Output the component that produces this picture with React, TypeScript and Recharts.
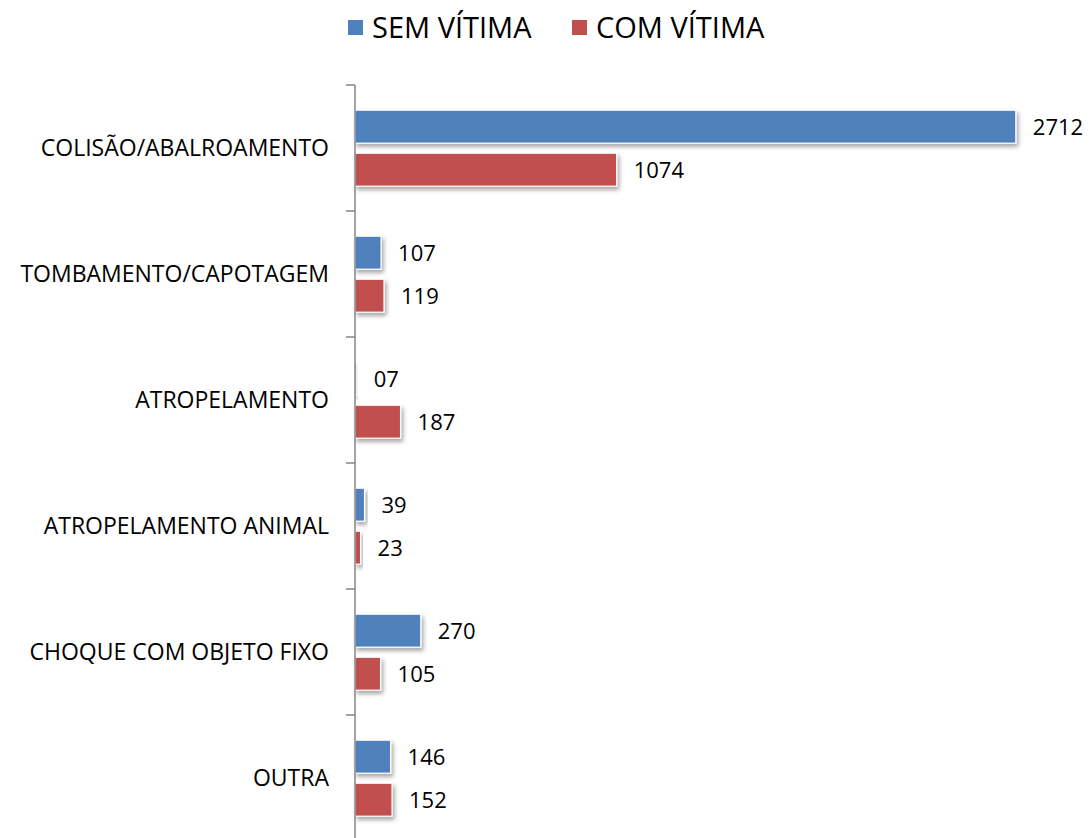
import React from 'react';
import { BarChart, Bar, XAxis, YAxis, Legend, LabelList } from 'recharts';

const categories = [
  'COLISÃO/ABALROAMENTO',
  'TOMBAMENTO/CAPOTAGEM',
  'ATROPELAMENTO',
  'ATROPELAMENTO ANIMAL',
  'CHOQUE COM OBJETO FIXO',
  'OUTRA',
];
const semVitima = [2712, 107, 7, 39, 270, 146];
const comVitima = [1074, 119, 187, 23, 105, 152];
const semLabels = ['2712', '107', '07', '39', '270', '146'];
const comLabels = ['1074', '119', '187', '23', '105', '152'];
const seriesNames = ['SEM VÍTIMA', 'COM VÍTIMA'];
const colors = ['#4F81BD', '#C0504D'];

const data = categories.map((name, i) => ({
  name,
  sem: semVitima[i],
  com: comVitima[i],
  semLabel: semLabels[i],
  comLabel: comLabels[i],
}));

const FONT = '"Open Sans", sans-serif';

const BarShape = (props: any) => {
  const { x, y, width, height, fill } = props;
  if (width == null || height == null) return null;
  return (
    <rect
      x={x}
      y={y}
      width={Math.max(width, 0)}
      height={height}
      fill={fill}
      stroke="#ffffff"
      strokeWidth={1.2}
      filter="url(#barShadow)"
    />
  );
};

const CategoryTick = (props: any) => {
  const { x, y, payload, index } = props;
  const half = payload && payload.offset ? payload.offset : 63;
  const axisX = x + 26;
  return (
    <g>
      <line x1={axisX - 9} x2={axisX} y1={y - half} y2={y - half} stroke="#868686" strokeWidth={1.5} />
      {index === categories.length - 1 && (
        <line x1={axisX - 9} x2={axisX} y1={y + half} y2={y + half} stroke="#868686" strokeWidth={1.5} />
      )}
      <text x={x} y={y} dy={7.5} textAnchor="end" fill="#000" fontSize={23} fontFamily={FONT}>
        {payload.value}
      </text>
    </g>
  );
};

const LegendContent = () => (
  <div style={{ position: 'relative', height: 60, width: 1091, fontFamily: FONT }}>
    {seriesNames.map((n, i) => (
      <div
        key={n}
        style={{
          position: 'absolute',
          left: i === 0 ? 348 : 572,
          top: 8,
          display: 'flex',
          alignItems: 'center',
          whiteSpace: 'nowrap',
        }}
      >
        <span style={{ display: 'inline-block', width: 15, height: 15, background: colors[i], marginRight: 9 }} />
        <span style={{ fontSize: 29, color: '#000', lineHeight: '38px' }}>{n}</span>
      </div>
    ))}
  </div>
);

export default function App() {
  return (
    <div style={{ width: 1091, height: 838, overflow: 'hidden', background: '#fff' }}>
      <style>{'body{margin:0;overflow:hidden;}'}</style>
      <BarChart
        width={1091}
        height={845}
        data={data}
        layout="vertical"
        margin={{ top: 25, right: 5, left: 0, bottom: 4 }}
        barCategoryGap="20%"
        barGap={10}
      >
        <defs>
          <filter id="barShadow" x="-20%" y="-40%" width="150%" height="200%">
            <feDropShadow dx="2" dy="3" stdDeviation="2" floodColor="#000" floodOpacity="0.35" />
          </filter>
        </defs>
        <XAxis type="number" domain={[0, 3000]} hide />
        <YAxis
          type="category"
          dataKey="name"
          width={355}
          axisLine={{ stroke: '#868686', strokeWidth: 1.5 }}
          tickLine={false}
          tickSize={9}
          tickMargin={17}
          tick={<CategoryTick />}
          interval={0}
        />
        <Legend
          verticalAlign="top"
          align="left"
          wrapperStyle={{ top: 0, left: 0, width: 1091, height: 60 }}
          content={<LegendContent />}
        />
        <Bar dataKey="sem" name={seriesNames[0]} fill={colors[0]} isAnimationActive={false} shape={<BarShape />}>
          <LabelList dataKey="semLabel" position="right" offset={17} fill="#000" fontSize={22} fontFamily={FONT} />
        </Bar>
        <Bar dataKey="com" name={seriesNames[1]} fill={colors[1]} isAnimationActive={false} shape={<BarShape />}>
          <LabelList dataKey="comLabel" position="right" offset={17} fill="#000" fontSize={22} fontFamily={FONT} />
        </Bar>
      </BarChart>
    </div>
  );
}
